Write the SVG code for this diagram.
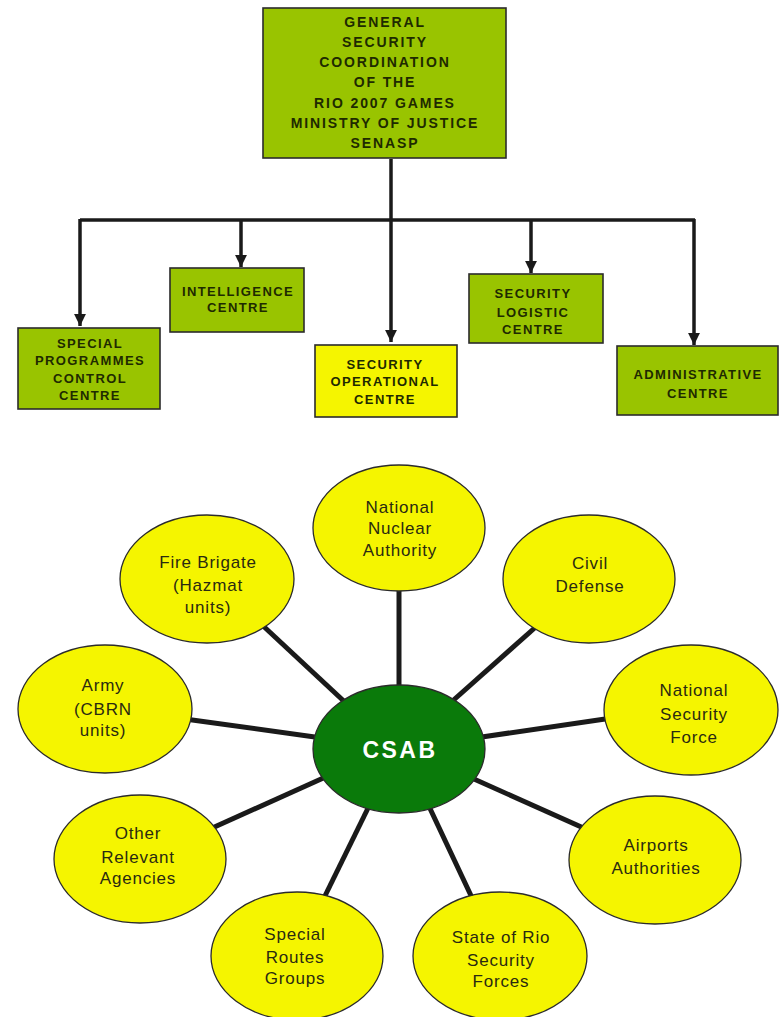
<svg xmlns="http://www.w3.org/2000/svg" width="780" height="1017" viewBox="0 0 780 1017">
<style>
.box{fill:#99c400;stroke:#2b2b2b;stroke-width:1.6}
.ybox{fill:#f5f500;stroke:#2b2b2b;stroke-width:1.6}
.bt{font-family:"Liberation Sans",Arial,sans-serif;font-weight:bold;font-size:13px;letter-spacing:1.4px;fill:#1e2a00;text-anchor:middle}
.tt{font-family:"Liberation Sans",Arial,sans-serif;font-weight:bold;font-size:14px;letter-spacing:1.9px;fill:#1e2a00;text-anchor:middle}
.ell{fill:#f5f500;stroke:#2b2b2b;stroke-width:1.3}
.et{font-family:"Liberation Sans",Arial,sans-serif;font-size:17px;letter-spacing:0.8px;fill:#2a2a10;text-anchor:middle}
.tree{stroke:#1a1a1a;stroke-width:3.5;fill:none}
.spoke{stroke:#1a1a1a;stroke-width:5;fill:none}
</style>
<defs>
<marker id="arr" viewBox="0 0 10 10" refX="10" refY="5" markerWidth="3.6" markerHeight="3.4" orient="auto" markerUnits="strokeWidth">
<path d="M0,0 L10,5 L0,10 z" fill="#1a1a1a"/>
</marker>
</defs>
<g id="connectors">
<line class="tree" x1="391" y1="159" x2="391" y2="220" stroke-width="4.5"/>
<line class="tree" x1="80" y1="220" x2="695" y2="220" stroke-width="3.5"/>
<line class="tree" x1="80" y1="219" x2="80" y2="326" marker-end="url(#arr)"/>
<line class="tree" x1="241" y1="220" x2="241" y2="267" marker-end="url(#arr)"/>
<line class="tree" x1="391" y1="220" x2="391" y2="342" marker-end="url(#arr)"/>
<line class="tree" x1="531" y1="220" x2="531" y2="273" marker-end="url(#arr)"/>
<line class="tree" x1="694" y1="219" x2="694" y2="345" marker-end="url(#arr)"/>
<line class="spoke" x1="399" y1="585" x2="399" y2="700"/>
<line class="spoke" x1="538" y1="625" x2="448" y2="705"/>
<line class="spoke" x1="612" y1="718" x2="475" y2="738"/>
<line class="spoke" x1="588" y1="830" x2="465" y2="775"/>
<line class="spoke" x1="474" y1="902" x2="426" y2="800"/>
<line class="spoke" x1="322" y1="902" x2="372" y2="800"/>
<line class="spoke" x1="210" y1="829" x2="330" y2="775"/>
<line class="spoke" x1="185" y1="719" x2="322" y2="738"/>
<line class="spoke" x1="260" y1="623" x2="348" y2="705"/>
</g>
<g id="node-gsc">
<rect class="box" x="263" y="8" width="243" height="150"/>
<text class="tt"><tspan x="385" y="27">GENERAL</tspan><tspan x="385" y="47">SECURITY</tspan><tspan x="385" y="67">COORDINATION</tspan><tspan x="385" y="87">OF THE</tspan><tspan x="385" y="108">RIO 2007 GAMES</tspan><tspan x="385" y="128">MINISTRY OF JUSTICE</tspan><tspan x="385" y="148">SENASP</tspan></text>
</g>
<g id="node-special">
<rect class="box" x="18" y="328" width="142" height="81"/>
<text class="bt"><tspan x="90" y="348">SPECIAL</tspan><tspan x="90" y="365">PROGRAMMES</tspan><tspan x="90" y="383">CONTROL</tspan><tspan x="90" y="400">CENTRE</tspan></text>
</g>
<g id="node-intelligence">
<rect class="box" x="170" y="268" width="134" height="64"/>
<text class="bt"><tspan x="238" y="296">INTELLIGENCE</tspan><tspan x="238" y="312">CENTRE</tspan></text>
</g>
<g id="node-operational">
<rect class="ybox" x="315" y="345" width="142" height="72"/>
<text class="bt"><tspan x="385" y="369">SECURITY</tspan><tspan x="385" y="386">OPERATIONAL</tspan><tspan x="385" y="404">CENTRE</tspan></text>
</g>
<g id="node-logistic">
<rect class="box" x="469" y="274" width="134" height="69"/>
<text class="bt"><tspan x="533" y="298">SECURITY</tspan><tspan x="533" y="317">LOGISTIC</tspan><tspan x="533" y="334">CENTRE</tspan></text>
</g>
<g id="node-admin">
<rect class="box" x="617" y="346" width="161" height="69"/>
<text class="bt"><tspan x="698" y="379">ADMINISTRATIVE</tspan><tspan x="698" y="398">CENTRE</tspan></text>
</g>
<g id="node-nuclear">
<ellipse class="ell" cx="399" cy="528" rx="86" ry="63"/>
<text class="et"><tspan x="400" y="513">National</tspan><tspan x="400" y="534">Nuclear</tspan><tspan x="400" y="556">Authority</tspan></text>
</g>
<g id="node-civil">
<ellipse class="ell" cx="589" cy="579" rx="86" ry="64"/>
<text class="et"><tspan x="590" y="569">Civil</tspan><tspan x="590" y="592">Defense</tspan></text>
</g>
<g id="node-nsf">
<ellipse class="ell" cx="691" cy="710" rx="87" ry="65"/>
<text class="et"><tspan x="694" y="696">National</tspan><tspan x="694" y="720">Security</tspan><tspan x="694" y="743">Force</tspan></text>
</g>
<g id="node-airports">
<ellipse class="ell" cx="655" cy="860" rx="86" ry="64"/>
<text class="et"><tspan x="656" y="851">Airports</tspan><tspan x="656" y="874">Authorities</tspan></text>
</g>
<g id="node-staterio">
<ellipse class="ell" cx="500" cy="956" rx="87" ry="64"/>
<text class="et"><tspan x="501" y="943">State of Rio</tspan><tspan x="501" y="966">Security</tspan><tspan x="501" y="987">Forces</tspan></text>
</g>
<g id="node-routes">
<ellipse class="ell" cx="297" cy="956" rx="86" ry="64"/>
<text class="et"><tspan x="295" y="940">Special</tspan><tspan x="295" y="963">Routes</tspan><tspan x="295" y="984">Groups</tspan></text>
</g>
<g id="node-other">
<ellipse class="ell" cx="140" cy="859" rx="86" ry="64"/>
<text class="et"><tspan x="138" y="839">Other</tspan><tspan x="138" y="863">Relevant</tspan><tspan x="138" y="884">Agencies</tspan></text>
</g>
<g id="node-army">
<ellipse class="ell" cx="105" cy="709" rx="87" ry="64"/>
<text class="et"><tspan x="103" y="691">Army</tspan><tspan x="103" y="715">(CBRN</tspan><tspan x="103" y="736">units)</tspan></text>
</g>
<g id="node-fire">
<ellipse class="ell" cx="207" cy="579" rx="87" ry="64"/>
<text class="et"><tspan x="208" y="568">Fire Brigate</tspan><tspan x="208" y="591">(Hazmat</tspan><tspan x="208" y="613">units)</tspan></text>
</g>
<g id="node-csab">
<ellipse cx="399" cy="749" rx="86" ry="64" fill="#0a7a0a" stroke="#2b2b2b" stroke-width="1.3"/>
<text x="400" y="758" font-family="'Liberation Sans',Arial,sans-serif" font-weight="bold" font-size="23" letter-spacing="2.5" fill="#ffffff" text-anchor="middle">CSAB</text>
</g>
</svg>
